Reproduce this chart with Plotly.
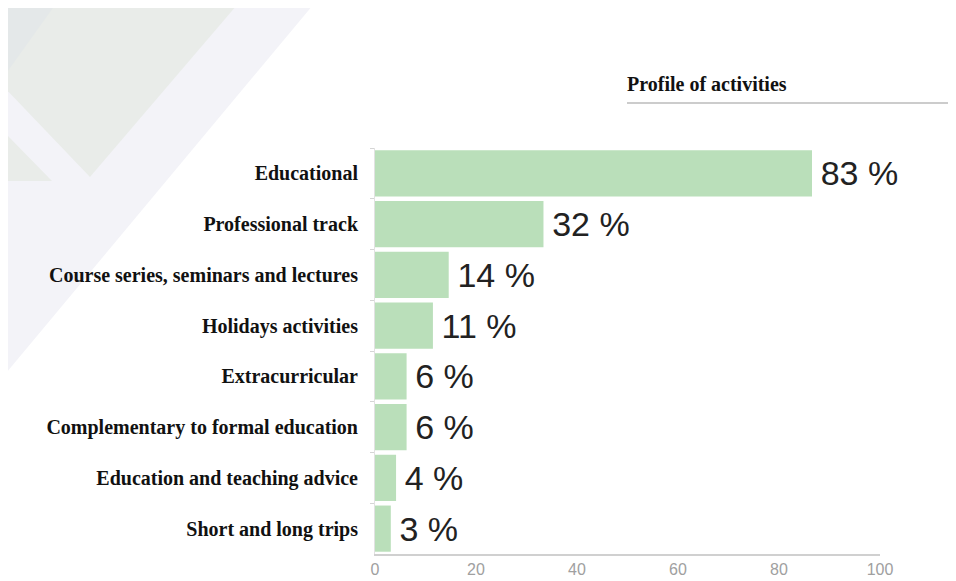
import plotly.graph_objects as go

categories = [
    "Educational",
    "Professional track",
    "Course series, seminars and lectures",
    "Holidays activities",
    "Extracurricular",
    "Complementary to formal education",
    "Education and teaching advice",
    "Short and long trips",
]
values = [83, 32, 14, 11, 6, 6, 4, 3]
tick_values = [0, 20, 40, 60, 80, 100]

OFF = 8  # page body margin of the html page
W, H = 956 - OFF, 581 - OFF
L, R, T, B = 375 - OFF, 76, 148 - OFF, 27
PW, PH = W - L - R, H - T - B


def px(x):
    return (x - OFF - L) / PW


def py(y):
    return (H - B - (y - OFF)) / PH


def poly(points):
    return "M " + " L ".join(f"{px(a):.4f},{py(b):.4f}" for a, b in points) + " Z"


fig = go.Figure()
fig.add_trace(go.Bar(
    x=values, y=categories, orientation="h",
    marker=dict(color="#badfba", line=dict(width=0)),
    text=[f"\u2006{v} %" for v in values], textposition="outside",
    textfont=dict(family="Liberation Sans, Arial", size=34, color="#222222"),
    cliponaxis=False, constraintext="none", hoverinfo="skip",
))
# axis carrying the 0-100 tick scale
fig.add_trace(go.Scatter(
    x=[tick_values[0], tick_values[-1]], y=[categories[0], categories[0]],
    xaxis="x2", mode="markers", marker=dict(opacity=0), hoverinfo="skip",
    showlegend=False,
))

shapes = [
    dict(type="path", path=poly([(5, 5), (313, 5), (7, 372)]),
         fillcolor="#f3f3f8", line=dict(width=0)),
    dict(type="path", path=poly([(5, 5), (237, 5), (90, 177), (5, 88)]),
         fillcolor="#e9ece9", line=dict(width=0)),
    dict(type="path", path=poly([(5, 5), (55, 5), (5, 75)]),
         fillcolor="#e4e8e9", line=dict(width=0)),
    dict(type="path", path=poly([(5, 133), (52, 181), (5, 181)]),
         fillcolor="#e9ece9", line=dict(width=0)),
    dict(type="line", x0=px(627), x1=px(966), y0=py(103), y1=py(103),
         line=dict(color="#cccccc", width=2)),
]
for s in shapes:
    s.update(xref="paper", yref="paper", layer="below")

fig.update_layout(
    width=W, height=H,
    margin=dict(l=L, r=R, t=T, b=B),
    paper_bgcolor="white", plot_bgcolor="rgba(0,0,0,0)",
    showlegend=False, bargap=0.09,
    shapes=shapes,
    xaxis=dict(range=[0, PW / (437 / 83)], visible=False, fixedrange=True,
               automargin=False),
    xaxis2=dict(range=[0, 100], overlaying="x", side="bottom", anchor="y",
                tickvals=tick_values, showgrid=False, zeroline=False,
                showline=True, linecolor="#d0d0d0", linewidth=2, automargin=False,
                tickfont=dict(family="Liberation Sans, Arial", size=16, color="#a0a0a0")),
    yaxis=dict(autorange="reversed", showgrid=False, zeroline=False,
               showline=True, linecolor="#e2e2e2", linewidth=1, automargin=False,
               ticks="outside", tickson="boundaries", ticklen=4, tickcolor="#d5d5d5",
               ticklabelstandoff=12,
               tickfont=dict(family="Liberation Serif", size=20, color="#111111", weight="bold")),
    annotations=[dict(
        text="Profile of activities", xref="paper", yref="paper",
        x=px(625), y=py(84), xanchor="left", yanchor="middle", showarrow=False,
        font=dict(family="Liberation Serif", size=20, color="#111111", weight="bold"),
    )],
)

fig.write_html("out.html")
